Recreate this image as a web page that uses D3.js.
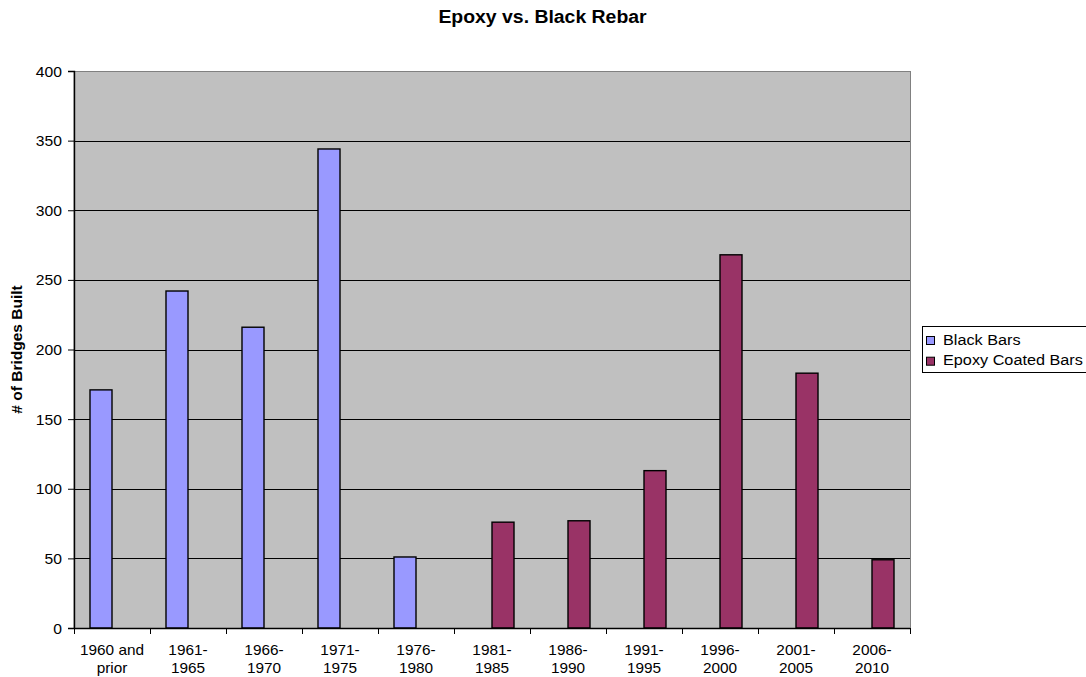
<!DOCTYPE html>
<html>
<head>
<meta charset="utf-8">
<script src="https://cdn.jsdelivr.net/npm/d3@7"></script>
<style>
  html, body { margin: 0; padding: 0; background: #fff; }
  svg text { font-family: "Liberation Sans", Arial, sans-serif; fill: #000; }
</style>
</head>
<body>
<svg id="chart" width="1086" height="677"></svg>
<script>
// Bridges built per period, by type of reinforcing bar
const periods = [["1960 and", "prior"], ["1961-", "1965"], ["1966-", "1970"], ["1971-", "1975"],
  ["1976-", "1980"], ["1981-", "1985"], ["1986-", "1990"], ["1991-", "1995"],
  ["1996-", "2000"], ["2001-", "2005"], ["2006-", "2010"]];
const blackBars = [171, 242, 216, 344, 51, 0, 0, 0, 0, 0, 0];
const epoxyBars = [0, 0, 0, 0, 0, 76, 77, 113, 268, 183, 49];
const seriesNames = ["Black Bars", "Epoxy Coated Bars"];
const seriesColors = ["#9999ff", "#993366"];
const yTicks = [0, 50, 100, 150, 200, 250, 300, 350, 400];

const svg = d3.select("#chart");
const plotLeft = 74, plotRight = 910, plotTop = 71, plotBottom = 628;
const textWiden = 1.12;   // the labels are set slightly wide

// Place a text element at (px, py) with a horizontal widening
function placeText(sel, px, py, sx) {
  return sel.attr("x", 0).attr("y", 0)
    .attr("transform", `translate(${px},${py}) scale(${sx},1)`);
}

const x = d3.scaleBand().domain(d3.range(periods.length)).range([plotLeft, plotRight]);
const inner = d3.scaleBand().domain([0, 1]).range([0, x.bandwidth()]).paddingInner(0).paddingOuter(0.727);
const y = d3.scaleLinear().domain([0, 400]).range([plotBottom, plotTop]);

// Plot background
svg.append("rect")
  .attr("x", plotLeft).attr("y", plotTop + 0.5)
  .attr("width", plotRight - plotLeft + 0.5).attr("height", plotBottom - plotTop)
  .attr("fill", "#c0c0c0").attr("stroke", "#808080").attr("stroke-width", 1);

// Horizontal gridlines
svg.append("g").selectAll("line").data(yTicks.filter(d => d > 0 && d < 400)).join("line")
  .attr("x1", plotLeft).attr("x2", plotRight)
  .attr("y1", d => Math.round(y(d)) + 0.5).attr("y2", d => Math.round(y(d)) + 0.5)
  .attr("stroke", "#000").attr("stroke-width", 1);

// Bars
const series = [blackBars, epoxyBars];
series.forEach((vals, si) => {
  svg.append("g").selectAll("rect").data(vals.map((v, i) => ({ v, i })).filter(d => d.v > 0)).join("rect")
    .attr("x", d => x(d.i) + inner(si))
    .attr("y", d => y(d.v))
    .attr("width", inner.bandwidth())
    .attr("height", d => y(0) - y(d.v))
    .attr("fill", seriesColors[si])
    .attr("stroke", "#000").attr("stroke-width", 1.4);
});

// Y axis
const yAxis = svg.append("g").attr("transform", `translate(${plotLeft},0)`)
  .call(d3.axisLeft(y).tickValues(yTicks).tickSize(6).tickPadding(6));
yAxis.select(".domain").attr("stroke", "#000").attr("stroke-width", 1.4);
yAxis.selectAll("line").attr("stroke", "#000");
yAxis.selectAll("text").attr("font-size", 14).attr("dy", "0.36em")
  .each(function() { placeText(d3.select(this), -12, 0, textWiden); });

// X axis with ticks at category boundaries
const xAxisG = svg.append("g");
xAxisG.append("line").attr("x1", plotLeft).attr("x2", plotRight)
  .attr("y1", plotBottom + 0.5).attr("y2", plotBottom + 0.5).attr("stroke", "#000").attr("stroke-width", 1.4);
xAxisG.selectAll("line.tick").data(d3.range(periods.length + 1)).join("line")
  .attr("class", "tick")
  .attr("x1", d => Math.round(plotLeft + d * x.step()) + 0.5)
  .attr("x2", d => Math.round(plotLeft + d * x.step()) + 0.5)
  .attr("y1", plotBottom).attr("y2", plotBottom + 6).attr("stroke", "#000");
periods.forEach((lines, i) => {
  lines.forEach((line, k) => {
    placeText(xAxisG.append("text").attr("text-anchor", "middle").attr("font-size", 14.5).text(line),
      x(i) + x.bandwidth() / 2, plotBottom + 27 + k * 18.3, textWiden - 0.06);
  });
});

// Title
placeText(svg.append("text").attr("text-anchor", "middle")
  .attr("font-size", 18.5).attr("font-weight", "bold").text("Epoxy vs. Black Rebar"),
  542.5, 22.7, 1.05);

// Y axis title
svg.append("text").attr("transform", `translate(21.5,${(plotTop + plotBottom) / 2}) rotate(-90)`)
  .attr("text-anchor", "middle").attr("font-size", 15.5).attr("font-weight", "bold")
  .text("# of Bridges Built");

// Legend
const lg = svg.append("g").attr("transform", "translate(922,326)");
lg.append("rect").attr("x", 0.5).attr("y", 0.5).attr("width", 200).attr("height", 46)
  .attr("fill", "#fff").attr("stroke", "#000");
seriesNames.forEach((name, i) => {
  lg.append("rect").attr("x", 4.5).attr("y", 10.5 + i * 20.7).attr("width", 8).attr("height", 8)
    .attr("fill", seriesColors[i]).attr("stroke", "#000");
  placeText(lg.append("text").attr("font-size", 14).text(name), 21, 18.5 + i * 20.7, textWiden + 0.04);
});
</script>
</body>
</html>
